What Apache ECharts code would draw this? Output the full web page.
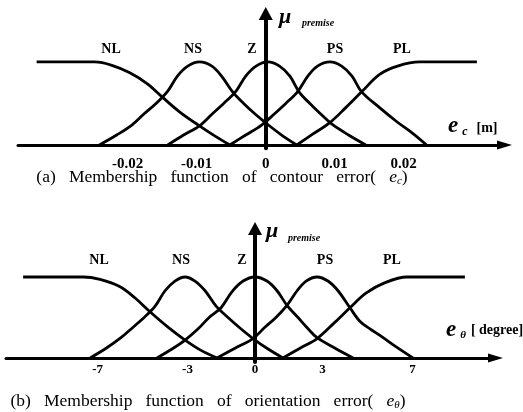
<!DOCTYPE html>
<html>
<head>
<meta charset="utf-8">
<script src="https://cdn.jsdelivr.net/npm/echarts@6/dist/echarts.min.js"></script>
<style>
  html, body { margin: 0; padding: 0; background: #fff; }
  #chart { width: 523px; height: 412px; }
</style>
</head>
<body>
<div id="chart"></div>
<script>
// Fuzzy membership functions: [error value, membership degree]
// (a) contour error e_c [m]
const contourNL = [[-0.0332,1],[-0.0248,1],[-0.0223,0.96],[-0.0197,0.87],[-0.0172,0.74],[-0.0149,0.57],[-0.0125,0.40],[-0.0096,0.23],[-0.0074,0.11],[-0.0052,0]];
const contourNS = [[-0.0241,0],[-0.0216,0.12],[-0.0194,0.24],[-0.0177,0.37],[-0.0159,0.50],[-0.0142,0.65],[-0.0128,0.83],[-0.0113,0.95],[-0.0096,1],[-0.0078,0.95],[-0.0064,0.83],[-0.0048,0.64],[-0.0032,0.50],[-0.0015,0.37],[0.0001,0.26],[0.0023,0.12],[0.0045,0]];
const contourZ  = [[-0.0142,0],[-0.0119,0.12],[-0.0096,0.23],[-0.0078,0.37],[-0.0061,0.50],[-0.0043,0.65],[-0.0029,0.83],[-0.0014,0.95],[0.0003,1],[0.0020,0.95],[0.0035,0.83],[0.0049,0.63],[0.0064,0.50],[0.0080,0.37],[0.0096,0.25],[0.0120,0.12],[0.0145,0]];
const contourPS = [[-0.0052,0],[-0.0029,0.12],[-0.0006,0.24],[0.0012,0.37],[0.0029,0.50],[0.0046,0.64],[0.0061,0.83],[0.0075,0.95],[0.0093,1],[0.0110,0.95],[0.0125,0.83],[0.0139,0.64],[0.0165,0.45],[0.0190,0.28],[0.0213,0.14],[0.0233,0]];
const contourPL = [[0.0045,0],[0.0068,0.13],[0.0093,0.27],[0.0116,0.45],[0.0139,0.64],[0.0165,0.85],[0.0191,0.95],[0.0223,1],[0.0306,1]];
const contourTicks = [-0.02, -0.01, 0, 0.01, 0.02];

// (b) orientation error e_theta [degree]
const orientNL = [[-10.31,1],[-7.64,1],[-6.89,0.97],[-6.00,0.88],[-5.33,0.74],[-4.67,0.57],[-3.87,0.38],[-3.11,0.22],[-2.44,0.10],[-1.69,0]];
const orientNS = [[-7.33,0],[-6.62,0.12],[-5.96,0.25],[-5.42,0.38],[-4.93,0.50],[-4.44,0.64],[-4.00,0.83],[-3.56,0.95],[-3.11,1],[-2.67,0.95],[-2.22,0.83],[-1.73,0.64],[-1.20,0.50],[-0.67,0.37],[-0.09,0.24],[0.58,0.11],[1.24,0]];
const orientZ  = [[-4.36,0],[-3.69,0.11],[-3.11,0.22],[-2.53,0.36],[-2.04,0.50],[-1.51,0.62],[-1.02,0.82],[-0.53,0.95],[0,1],[0.53,0.95],[0.98,0.83],[1.42,0.65],[1.91,0.50],[2.36,0.36],[2.76,0.25],[3.56,0.12],[4.36,0]];
const orientPS = [[-1.69,0],[-0.89,0.12],[-0.09,0.24],[0.44,0.38],[0.93,0.50],[1.42,0.65],[1.87,0.83],[2.27,0.95],[2.76,1],[3.24,0.95],[3.69,0.83],[4.22,0.62],[4.67,0.45],[5.11,0.36],[5.60,0.27],[6.31,0.13],[7.02,0]];
const orientPL = [[1.24,0],[2.00,0.12],[2.76,0.24],[3.51,0.43],[4.22,0.62],[4.93,0.80],[5.78,0.93],[6.76,1],[9.33,1]];
const orientTicks = [-7, -3, 0, 3, 7];

const setNames = ['NL', 'NS', 'Z', 'PS', 'PL'];

const SERIF = '"Liberation Serif", "Times New Roman", serif';
const INK = '#000';

function curve(name, data, idx) {
  return {
    name, type: 'line', data,
    xAxisIndex: idx, yAxisIndex: idx,
    showSymbol: false, smooth: 0.35,
    lineStyle: { color: INK, width: 2.8 },
    silent: true, animation: false, z: 3
  };
}

function xAxisCfg(idx, min, max, ticks, margin, size) {
  return {
    type: 'value', gridIndex: idx, min, max,
    axisLine: { onZero: true, symbol: ['none', 'triangle'], symbolSize: [9, 15],
      lineStyle: { color: INK, width: 3 } },
    axisTick: { show: false }, splitLine: { show: false },
    axisLabel: { customValues: ticks, margin, color: INK,
      fontFamily: SERIF, fontWeight: 'bold', fontSize: size }
  };
}

function yAxisCfg(idx, min, max) {
  return {
    type: 'value', gridIndex: idx, min, max,
    axisLine: { onZero: true, symbol: ['none', 'triangle'], symbolSize: [14, 13],
      lineStyle: { color: INK, width: 4 } },
    axisTick: { show: false }, splitLine: { show: false }, axisLabel: { show: false }
  };
}

function txt(text, x, y, font, align) {
  return { type: 'text', x, y, silent: true, z: 10,
    style: { text, font, fill: INK, align: align || 'center', verticalAlign: 'middle' } };
}

const topLabelX = [111, 193, 252, 335, 402];
const botLabelX = [99, 181, 242, 325, 392];

const graphics = [];
setNames.forEach((n, i) => {
  graphics.push(txt(n, topLabelX[i], 49, 'bold 14px ' + SERIF));
  graphics.push(txt(n, botLabelX[i], 260, 'bold 14px ' + SERIF));
});
// membership axis titles
graphics.push(txt('\u03bc', 285, 17, 'italic bold 22px ' + SERIF));
graphics.push(txt('premise', 318, 23, 'italic bold 10px ' + SERIF));
graphics.push(txt('\u03bc', 272, 231, 'italic bold 22px ' + SERIF));
graphics.push(txt('premise', 304, 238, 'italic bold 10px ' + SERIF));
// error axis titles
graphics.push(txt('e', 453, 126, 'italic bold 23px ' + SERIF));
graphics.push(txt('c', 465, 132, 'italic bold 12px ' + SERIF));
graphics.push(txt('[m]', 487, 128, 'bold 14px ' + SERIF));
graphics.push(txt('e', 451, 330, 'italic bold 23px ' + SERIF));
graphics.push(txt('\u03b8', 463, 335, 'italic bold 11px ' + SERIF));
graphics.push(txt('[ degree]', 497, 330, 'bold 14px ' + SERIF));
// captions
function caption(prefix, sub, x, y) {
  return { type: 'text', x, y, silent: true, z: 10,
    style: {
      text: '{t|' + prefix + '}{i|e}{s|' + sub + '}{t|)}',
      align: 'center', verticalAlign: 'middle',
      rich: {
        t: { font: '17.5px ' + SERIF, fill: INK },
        i: { font: 'italic 17.5px ' + SERIF, fill: INK },
        s: { font: 'italic 11px ' + SERIF, fill: INK, verticalAlign: 'bottom', padding: [9, 0, 0, 0] }
      }
    } };
}
graphics.push(caption('(a)   Membership   function   of   contour   error(   ', 'c', 222, 177));
graphics.push(caption('(b)   Membership   function   of   orientation   error(   ', '\u03b8', 208, 401));

const chart = echarts.init(document.getElementById('chart'), null, { renderer: 'canvas' });
chart.setOption({
  backgroundColor: '#fff',
  animation: false,
  grid: [
    { left: 18, top: 13.5, width: 486.5, height: 134.8 },
    { left: 6, top: 228.5, width: 489.5, height: 133.5 }
  ],
  xAxis: [
    xAxisCfg(0, -0.0359, 0.0346, contourTicks, 8, 15),
    xAxisCfg(1, -11.07, 10.69, orientTicks, 1, 13)
  ],
  yAxis: [
    yAxisCfg(0, -0.04, 1.584),
    yAxisCfg(1, -0.05, 1.599)
  ],
  series: [
    curve('NL', contourNL, 0), curve('NS', contourNS, 0), curve('Z', contourZ, 0),
    curve('PS', contourPS, 0), curve('PL', contourPL, 0),
    curve('NL', orientNL, 1), curve('NS', orientNS, 1), curve('Z', orientZ, 1),
    curve('PS', orientPS, 1), curve('PL', orientPL, 1)
  ],
  graphic: graphics
});
</script>
</body>
</html>
